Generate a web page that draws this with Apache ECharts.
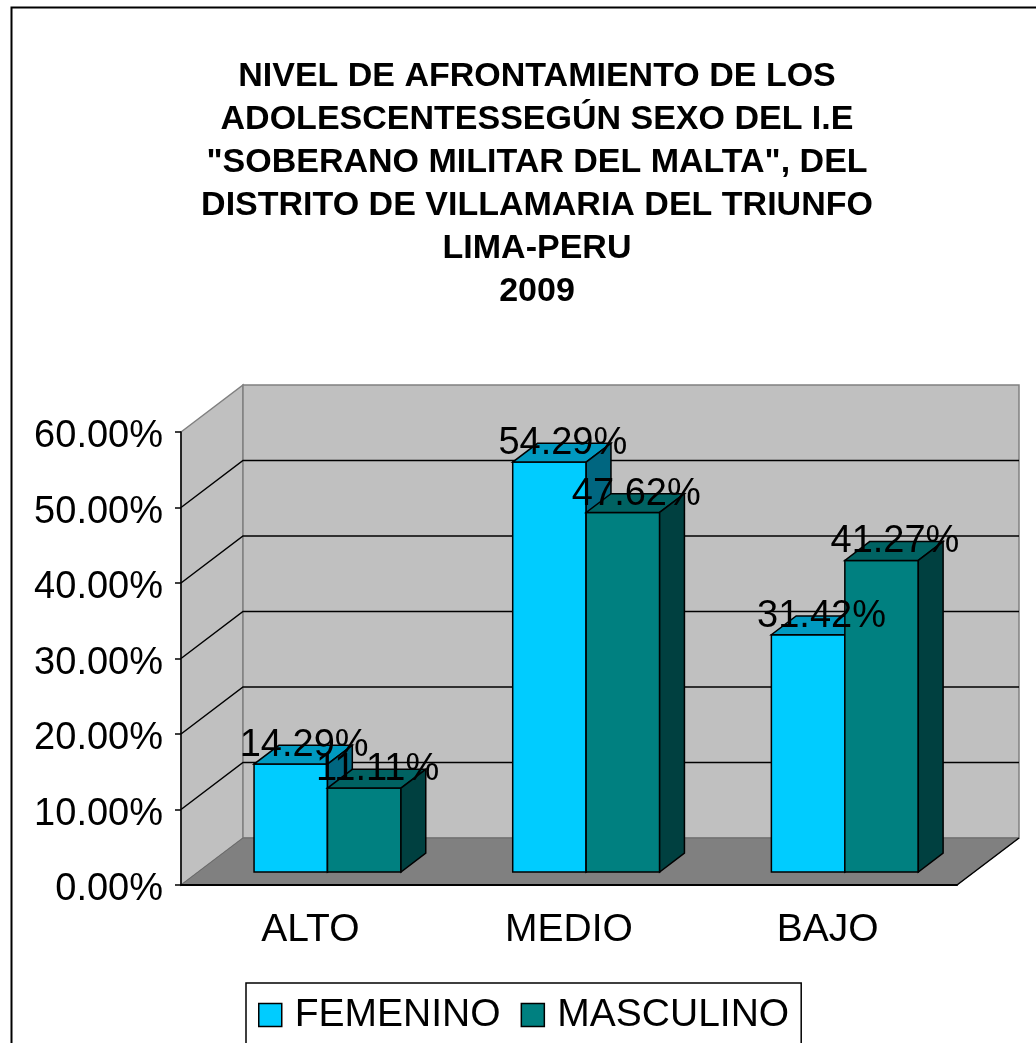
<!DOCTYPE html>
<html>
<head>
<meta charset="utf-8">
<title>Nivel de afrontamiento</title>
<script src="https://cdn.jsdelivr.net/npm/echarts@6/dist/echarts.min.js"></script>
<style>
  html, body { margin: 0; padding: 0; background: #fff; }
  #chart { width: 1036px; height: 1043px; }
</style>
</head>
<body>
<div id="chart"></div>
<script>
// datos (porcentajes)
var categorias = ['ALTO', 'MEDIO', 'BAJO'];
var femenino = [14.29, 54.29, 31.42];
var masculino = [11.11, 47.62, 41.27];
var yTicks = [0, 10, 20, 30, 40, 50, 60];

// profundidad del "3D"
var DX = 62, DY = -47;      // fondo de las paredes
var T0 = 0.277, TB = 0.4;   // posicion y grosor de las barras
var BAR_FRAC = 0.284;
var FONT = 'Liberation Sans, Arial, sans-serif';

var colores = {
    FEMENINO: { front: '#00CCFF', top: '#0099C0', side: '#006680' },
    MASCULINO: { front: '#008080', top: '#006262', side: '#004040' }
};

var myChart = echarts.init(document.getElementById('chart'));

function paredes(params, api) {
    var cs = params.coordSys;
    var x = cs.x, y = cs.y, w = cs.width, h = cs.height;
    var kids = [
        { type: 'polygon', shape: { points: [[x, y], [x + DX, y + DY], [x + DX, y + h + DY], [x, y + h]] },
          style: { fill: '#C0C0C0', stroke: '#808080', lineWidth: 1.5 } },
        { type: 'polygon', shape: { points: [[x + DX, y + DY], [x + w + DX, y + DY], [x + w + DX, y + h + DY], [x + DX, y + h + DY]] },
          style: { fill: '#C0C0C0', stroke: '#808080', lineWidth: 1.5 } },
        { type: 'polygon', shape: { points: [[x, y + h], [x + w, y + h], [x + w + DX, y + h + DY], [x + DX, y + h + DY]] },
          style: { fill: '#808080', stroke: '#6a6a6a', lineWidth: 1 } },
        { type: 'line', shape: { x1: x + w, y1: y + h, x2: x + w + DX, y2: y + h + DY },
          style: { stroke: '#000', lineWidth: 1.5 } }
    ];
    for (var k = 1; k < yTicks.length - 1; k++) {
        var yy = api.coord([0, yTicks[k]])[1];
        kids.push({ type: 'polyline', shape: { points: [[x, yy], [x + DX, yy + DY], [x + w + DX, yy + DY]] },
            style: { stroke: '#000', lineWidth: 1.5, fill: null } });
    }
    return { type: 'group', children: kids };
}

function barra(lado, nombre) {
    var c = colores[nombre];
    return function (params, api) {
        var i = api.value(0), v = api.value(1);
        var base = api.coord([i, 0]);
        var tope = api.coord([i, v]);
        var bw = api.size([1, 0])[0] * BAR_FRAC;
        var x0 = base[0] + (lado === 0 ? -bw : 0) + DX * T0;
        var x1 = x0 + bw;
        var yb = base[1] + DY * T0;
        var yt = tope[1] + DY * T0;
        var dx = DX * TB, dy = DY * TB;
        var borde = { stroke: '#000', lineWidth: 1.5 };
        return {
            type: 'group',
            children: [
                { type: 'polygon', shape: { points: [[x0, yt], [x1, yt], [x1, yb], [x0, yb]] },
                  style: Object.assign({ fill: c.front }, borde) },
                { type: 'polygon', shape: { points: [[x0, yt], [x1, yt], [x1 + dx, yt + dy], [x0 + dx, yt + dy]] },
                  style: Object.assign({ fill: c.top }, borde) },
                { type: 'polygon', shape: { points: [[x1, yt], [x1 + dx, yt + dy], [x1 + dx, yb + dy], [x1, yb]] },
                  style: Object.assign({ fill: c.side }, borde) },
                { type: 'text', z2: 100,
                  style: { text: v.toFixed(2) + '%', x: (x0 + x1) / 2 + dx / 2 + 1, y: yt + dy / 2 - 9,
                           align: 'center', verticalAlign: 'middle', fill: '#000',
                           font: '38px ' + FONT } }
            ]
        };
    };
}

option = {
    backgroundColor: '#fff',
    animation: false,
    color: ['#00CCFF', '#008080'],
    title: {
        text: 'NIVEL DE AFRONTAMIENTO DE LOS\nADOLESCENTESSEGÚN SEXO DEL I.E\n"SOBERANO MILITAR DEL MALTA", DEL\nDISTRITO DE VILLAMARIA DEL TRIUNFO\nLIMA-PERU\n2009',
        left: 537,
        top: 55,
        textAlign: 'center',
        padding: 0,
        textStyle: {
            fontFamily: FONT,
            fontSize: 34,
            fontWeight: 'bold',
            lineHeight: 43,
            color: '#000'
        }
    },
    legend: {
        data: ['FEMENINO', 'MASCULINO'],
        left: 246,
        top: 983,
        padding: [8, 12],
        itemGap: 20,
        itemWidth: 23,
        itemHeight: 23,
        icon: 'rect',
        borderColor: '#000',
        borderWidth: 1.5,
        itemStyle: { borderColor: '#000', borderWidth: 1.5 },
        textStyle: { fontFamily: FONT, fontSize: 39, color: '#000', lineHeight: 44, padding: [4, 0, 0, 8] }
    },
    grid: {
        left: 181,
        top: 432,
        width: 776,
        height: 453
    },
    xAxis: {
        type: 'category',
        data: categorias,
        z: 10,
        axisLine: { lineStyle: { color: '#000', width: 2 } },
        axisTick: { length: 6, lineStyle: { color: '#000', width: 1.5 } },
        axisLabel: { fontFamily: FONT, fontSize: 39, color: '#000', margin: 26 },
        splitLine: { show: false }
    },
    yAxis: {
        type: 'value',
        min: 0,
        max: 60,
        interval: 10,
        z: 10,
        axisLine: { show: true, lineStyle: { color: '#000', width: 1.5 } },
        axisTick: { show: true, length: 6, lineStyle: { color: '#000', width: 1.5 } },
        axisLabel: {
            color: '#000', margin: 18,
            formatter: function (v) { return '{p|' + v.toFixed(2) + '%}'; },
            rich: {
                p: { fontFamily: FONT, fontSize: 38, color: '#000', padding: [10, 0, 0, 0] }
            }
        },
        splitLine: { show: false }
    },
    graphic: [
        { type: 'rect', left: 9, top: 5, z: 100, silent: true,
          shape: { width: 1060, height: 1070 },
          style: { fill: null, stroke: '#000', lineWidth: 2 } }
    ],
    series: [
        {
            name: 'paredes',
            type: 'custom',
            silent: true,
            z: 1,
            renderItem: paredes,
            data: [[0, 0]]
        },
        {
            name: 'FEMENINO',
            type: 'custom',
            z: 2,
            itemStyle: { color: '#00CCFF' },
            renderItem: barra(0, 'FEMENINO'),
            data: femenino.map(function (v, i) { return [i, v]; })
        },
        {
            name: 'MASCULINO',
            type: 'custom',
            z: 2,
            itemStyle: { color: '#008080' },
            renderItem: barra(1, 'MASCULINO'),
            data: masculino.map(function (v, i) { return [i, v]; })
        }
    ]
};
myChart.setOption(option);

window.addEventListener('resize', function () {
    myChart.resize();
});
</script>
</body>
</html>
